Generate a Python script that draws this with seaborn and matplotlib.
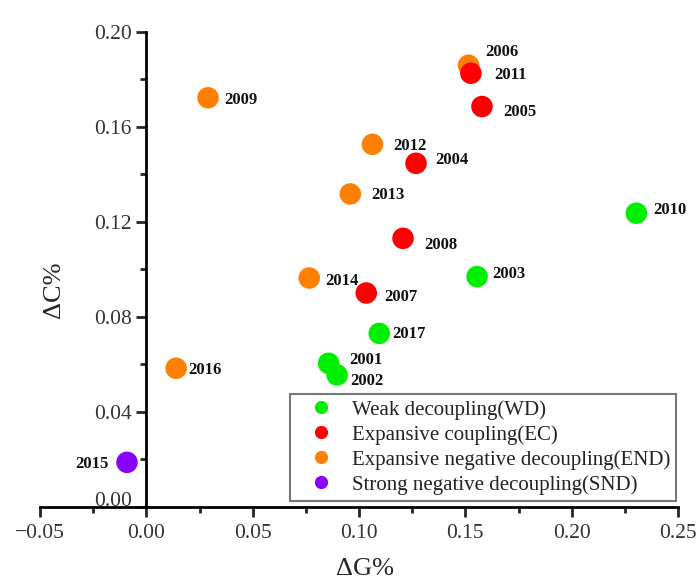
import pandas as pd
import matplotlib.pyplot as plt
import matplotlib.transforms as mtransforms
import seaborn as sns

# data
years = ['2001', '2002', '2003', '2004', '2005', '2006', '2007', '2008', '2009',
         '2010', '2011', '2012', '2013', '2014', '2015', '2016', '2017']
dg = [0.0857, 0.0897, 0.1555, 0.1268, 0.1578, 0.1515, 0.1034, 0.1207, 0.0290,
      0.2304, 0.1526, 0.1063, 0.0959, 0.0766, -0.0091, 0.0140, 0.1095]
dc = [0.0605, 0.0556, 0.0970, 0.1447, 0.1686, 0.1860, 0.0901, 0.1131, 0.1723,
      0.1237, 0.1826, 0.1527, 0.1318, 0.0964, 0.0188, 0.0584, 0.0731]
state = ['WD', 'WD', 'WD', 'EC', 'EC', 'END', 'EC', 'EC', 'END',
         'WD', 'EC', 'END', 'END', 'END', 'SND', 'END', 'WD']

state_names = {
    'WD': 'Weak decoupling(WD)',
    'EC': 'Expansive coupling(EC)',
    'END': 'Expansive negative decoupling(END)',
    'SND': 'Strong negative decoupling(SND)',
}
colors = {'WD': '#00ee00', 'EC': '#ff0000', 'END': '#ff8000', 'SND': '#8800ff'}

# label offsets in pixels (dx, dy) from the point centre, dy positive = down
offsets = {
    '2001': (21, -3), '2002': (13, 6), '2003': (15, -3), '2004': (19, -3),
    '2005': (21, 5), '2006': (17, -13), '2007': (18, 4), '2008': (21, 7),
    '2009': (16, 2), '2010': (17, -3), '2011': (23, 2), '2012': (21, 2),
    '2013': (21, 1), '2014': (16, 3), '2015': (-18, 2), '2016': (12, 2),
    '2017': (13, 1),
}

df = pd.DataFrame({'year': years, 'dg': dg, 'dc': dc, 'state': state})
df['label'] = df['state'].map(state_names)
palette = {state_names[k]: v for k, v in colors.items()}

sns.set_style('ticks')
plt.rcParams['font.family'] = ['Liberation Serif', 'DejaVu Serif']

fig = plt.figure(figsize=(6.97, 5.82), dpi=100)
ax = fig.add_axes([0.0574, 0.1289, 0.9154, 0.8162])

sns.scatterplot(data=df, x='dg', y='dc', hue='label', palette=palette,
                hue_order=[state_names[k] for k in ['WD', 'EC', 'END', 'SND']],
                s=240, linewidth=0, ax=ax)

for yr, x, y in zip(years, dg, dc):
    dx, dy = offsets[yr]
    ax.annotate(yr, (x, y), xytext=(dx * 0.72, -dy * 0.72), textcoords='offset points',
                ha='right' if dx < 0 else 'left', va='center',
                fontsize=12, fontweight='bold', color='#111111')

ax.set_xlim(-0.05, 0.25)
ax.set_ylim(0, 0.20)
ax.set_xticks([-0.05, 0.0, 0.05, 0.10, 0.15, 0.20, 0.25])
ax.set_xticklabels(['\u22120.05', '0.00', '0.05', '0.10', '0.15', '0.20', '0.25'])
ax.set_xticks([-0.025, 0.025, 0.075, 0.125, 0.175, 0.225], minor=True)
ax.set_yticks([0.0, 0.04, 0.08, 0.12, 0.16, 0.20])
ax.set_yticklabels(['0.00', '0.04', '0.08', '0.12', '0.16', '0.20'])
ax.set_yticks([0.02, 0.06, 0.10, 0.14, 0.18], minor=True)

ax.spines['left'].set_position(('data', 0))
ax.spines['top'].set_visible(False)
ax.spines['right'].set_visible(False)
for sp in ['left', 'bottom']:
    ax.spines[sp].set_linewidth(2)
    ax.spines[sp].set_color('black')
ax.tick_params(which='major', length=7, width=2, labelsize=15.5, labelcolor='#333333')
ax.tick_params(axis='x', which='major', pad=5)
ax.tick_params(which='minor', length=4.5, width=2)

# the 0.00 label sits a little above the x axis line
lab0 = ax.get_yticklabels()[0]
lab0.set_transform(lab0.get_transform() +
                   mtransforms.ScaledTranslation(0, 6 / 72, fig.dpi_scale_trans))

ax.set_xlabel('\u0394G%', fontsize=19)
ax.set_ylabel('\u0394C%', fontsize=19)
ax.xaxis.set_label_coords(0.51, -0.108)
ax.yaxis.set_label_coords(0.039, 0.457)

handles, labels = ax.get_legend_handles_labels()
for h in handles:
    h.set_markersize(9.5)
leg = ax.legend(handles, labels, loc='lower right', bbox_to_anchor=(0.997, 0.013),
                borderaxespad=0, fontsize=15, frameon=True, fancybox=False,
                edgecolor='#777777', framealpha=1, handletextpad=0.25,
                labelspacing=0.25, borderpad=0.3, handlelength=2.4)
leg.get_frame().set_linewidth(1.5)
for t in leg.get_texts():
    t.set_color('#222222')

plt.savefig('out.png', dpi=100)
